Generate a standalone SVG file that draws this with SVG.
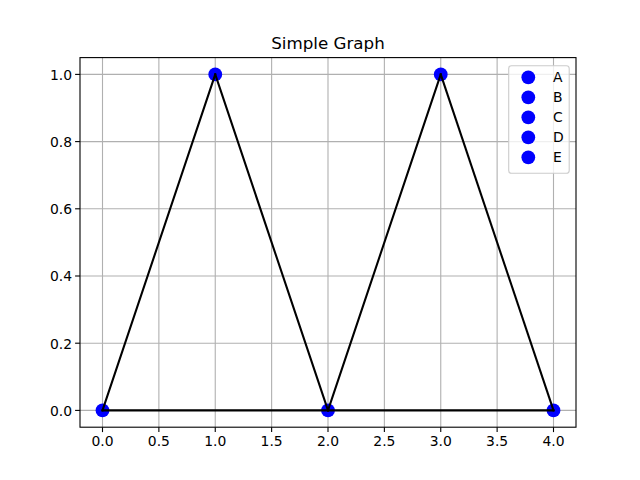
<svg xmlns="http://www.w3.org/2000/svg" width="640" height="480" viewBox="0 0 640 480">
<style>
text{font-family:"DejaVu Sans",sans-serif;fill:#000}
.tick{font-size:13.9px}
.grid line{stroke:#b0b0b0;stroke-width:1.1}
.ticks line{stroke:#000;stroke-width:1.1}
.edge{stroke:#000;stroke-width:2.08;fill:none;stroke-linecap:square}
.node{fill:#0000ff}
</style>
<rect width="640" height="480" fill="#fff"/>
<rect x="80" y="57.6" width="496" height="369.6" fill="#fff"/>
<g class="grid">
<line x1="102.5" y1="57.6" x2="102.5" y2="427.2"/>
<line x1="158.875" y1="57.6" x2="158.875" y2="427.2"/>
<line x1="215.25" y1="57.6" x2="215.25" y2="427.2"/>
<line x1="271.625" y1="57.6" x2="271.625" y2="427.2"/>
<line x1="328" y1="57.6" x2="328" y2="427.2"/>
<line x1="384.375" y1="57.6" x2="384.375" y2="427.2"/>
<line x1="440.75" y1="57.6" x2="440.75" y2="427.2"/>
<line x1="497.125" y1="57.6" x2="497.125" y2="427.2"/>
<line x1="553.5" y1="57.6" x2="553.5" y2="427.2"/>
<line x1="80" y1="410.4" x2="576" y2="410.4"/>
<line x1="80" y1="343.2" x2="576" y2="343.2"/>
<line x1="80" y1="276" x2="576" y2="276"/>
<line x1="80" y1="208.8" x2="576" y2="208.8"/>
<line x1="80" y1="141.6" x2="576" y2="141.6"/>
<line x1="80" y1="74.4" x2="576" y2="74.4"/>
</g>
<g id="nodes">
<g id="node-A"><circle class="node" cx="102.5" cy="410.4" r="6.9"/></g>
<g id="node-B"><circle class="node" cx="215.25" cy="74.4" r="6.9"/></g>
<g id="node-C"><circle class="node" cx="328" cy="410.4" r="6.9"/></g>
<g id="node-D"><circle class="node" cx="440.75" cy="74.4" r="6.9"/></g>
<g id="node-E"><circle class="node" cx="553.5" cy="410.4" r="6.9"/></g>
</g>
<g id="connectors">
<line class="edge" x1="102.5" y1="410.4" x2="215.25" y2="74.4"/>
<line class="edge" x1="215.25" y1="74.4" x2="328" y2="410.4"/>
<line class="edge" x1="328" y1="410.4" x2="440.75" y2="74.4"/>
<line class="edge" x1="440.75" y1="74.4" x2="553.5" y2="410.4"/>
<line class="edge" x1="102.5" y1="410.4" x2="328" y2="410.4"/>
<line class="edge" x1="328" y1="410.4" x2="553.5" y2="410.4"/>
</g>
<rect x="80" y="57.6" width="496" height="369.6" fill="none" stroke="#000" stroke-width="1.1"/>
<g class="ticks">
<line x1="102.5" y1="427.2" x2="102.5" y2="432.1"/>
<line x1="158.875" y1="427.2" x2="158.875" y2="432.1"/>
<line x1="215.25" y1="427.2" x2="215.25" y2="432.1"/>
<line x1="271.625" y1="427.2" x2="271.625" y2="432.1"/>
<line x1="328" y1="427.2" x2="328" y2="432.1"/>
<line x1="384.375" y1="427.2" x2="384.375" y2="432.1"/>
<line x1="440.75" y1="427.2" x2="440.75" y2="432.1"/>
<line x1="497.125" y1="427.2" x2="497.125" y2="432.1"/>
<line x1="553.5" y1="427.2" x2="553.5" y2="432.1"/>
<line x1="80" y1="410.4" x2="75.1" y2="410.4"/>
<line x1="80" y1="343.2" x2="75.1" y2="343.2"/>
<line x1="80" y1="276" x2="75.1" y2="276"/>
<line x1="80" y1="208.8" x2="75.1" y2="208.8"/>
<line x1="80" y1="141.6" x2="75.1" y2="141.6"/>
<line x1="80" y1="74.4" x2="75.1" y2="74.4"/>
</g>
<g class="tick" text-anchor="middle">
<text x="102.5" y="446">0.0</text>
<text x="158.875" y="446">0.5</text>
<text x="215.25" y="446">1.0</text>
<text x="271.625" y="446">1.5</text>
<text x="328" y="446">2.0</text>
<text x="384.375" y="446">2.5</text>
<text x="440.75" y="446">3.0</text>
<text x="497.125" y="446">3.5</text>
<text x="553.5" y="446">4.0</text>
</g>
<g class="tick" text-anchor="end">
<text x="72.1" y="415.7">0.0</text>
<text x="72.1" y="348.5">0.2</text>
<text x="72.1" y="281.3">0.4</text>
<text x="72.1" y="214.1">0.6</text>
<text x="72.1" y="146.9">0.8</text>
<text x="72.1" y="79.7">1.0</text>
</g>
<text x="328" y="49" font-size="16.7" text-anchor="middle">Simple Graph</text>
<g id="legend">
<rect x="508.7" y="65.7" width="60.5" height="107.6" rx="2.8" fill="#fff" fill-opacity="0.8" stroke="#cccccc" stroke-width="1.1"/>
<circle class="node" cx="528.3" cy="77.3" r="6.9"/>
<circle class="node" cx="528.3" cy="97.3" r="6.9"/>
<circle class="node" cx="528.3" cy="117.3" r="6.9"/>
<circle class="node" cx="528.3" cy="137.3" r="6.9"/>
<circle class="node" cx="528.3" cy="157.3" r="6.9"/>
<g class="tick">
<text x="553" y="82.2">A</text>
<text x="553" y="102.2">B</text>
<text x="553" y="122.2">C</text>
<text x="553" y="142.2">D</text>
<text x="553" y="162.2">E</text>
</g>
</g>
</svg>
